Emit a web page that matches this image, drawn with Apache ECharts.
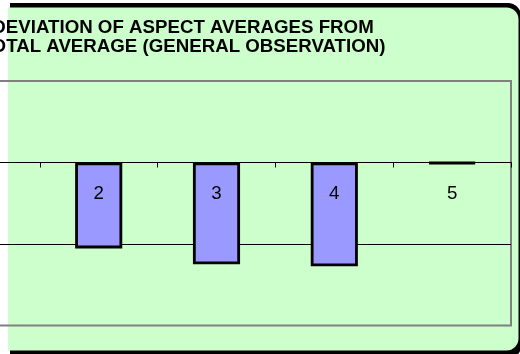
<!DOCTYPE html>
<html>
<head>
<meta charset="utf-8">
<script src="https://cdn.jsdelivr.net/npm/echarts@6/dist/echarts.min.js"></script>
<style>
  html, body { margin: 0; padding: 0; background: #ffffff; }
  #chart { width: 520px; height: 354px; }
</style>
</head>
<body>
<div id="chart"></div>
<script>
// Aspect numbers and their deviation from the overall average
const aspects = ['1', '2', '3', '4', '5'];
const deviations = [null, -0.527, -0.624, -0.637, -0.006];

// Value axis range and gridline step
const valueMin = -1;
const valueMax = 0.5;
const valueStep = 0.5;

const titleLines = [
  'DEVIATION OF ASPECT AVERAGES FROM',
  'TOTAL AVERAGE (GENERAL OBSERVATION)'
];

const FONT = 'Liberation Sans, Arial, sans-serif';
const chart = echarts.init(document.getElementById('chart'), null, { renderer: 'canvas' });

chart.setOption({
  backgroundColor: '#ffffff',
  animation: false,
  graphic: [
    {
      // frame shadow
      type: 'rect',
      z: -10,
      silent: true,
      shape: { x: 10, y: 3, width: 511, height: 356, r: [0, 13, 13, 0] },
      style: { fill: '#000000' }
    },
    {
      // chart area
      type: 'rect',
      z: -9,
      silent: true,
      shape: { x: 8, y: 7.5, width: 510.5, height: 343, r: [0, 12, 12, 0] },
      style: { fill: '#CCFFCC' }
    }
  ],
  title: {
    text: titleLines.join('\n'),
    left: 183,
    top: 18,
    padding: 0,
    textAlign: 'center',
    textStyle: {
      fontFamily: FONT,
      fontSize: 18.7,
      fontWeight: 'bold',
      color: '#000000',
      lineHeight: 19.5
    }
  },
  grid: {
    left: -78,
    right: 9,
    top: 81,
    bottom: 28.5,
    containLabel: false,
    outerBoundsMode: 'none',
    show: true,
    backgroundColor: 'transparent',
    borderColor: '#808080',
    borderWidth: 2
  },
  xAxis: {
    type: 'category',
    data: aspects,
    z: 5,
    axisLine: { show: true, onZero: false, lineStyle: { color: '#000000', width: 1 } },
    axisTick: { show: true, interval: 0, length: 5, lineStyle: { color: '#000000', width: 1 } },
    axisLabel: {
      interval: 0,
      margin: 22,
      color: '#000000',
      fontFamily: FONT,
      fontSize: 18.7
    },
    splitLine: { show: false }
  },
  yAxis: {
    type: 'value',
    min: valueMin,
    max: valueMax,
    interval: valueStep,
    axisLine: { show: false },
    axisTick: { show: false },
    axisLabel: { show: false },
    splitLine: {
      show: true,
      showMinLine: false,
      showMaxLine: false,
      lineStyle: { color: '#000000', width: 1 }
    }
  },
  series: [
    {
      type: 'bar',
      data: deviations,
      barWidth: '40%',
      itemStyle: {
        color: '#9999FF',
        borderColor: '#000000',
        borderWidth: 2.8
      }
    }
  ]
});

// Move the category axis (line, ticks and labels) up to the value-axis zero
const plotBottom = chart.convertToPixel({ yAxisIndex: 0 }, valueMin);
const zeroY = chart.convertToPixel({ yAxisIndex: 0 }, 0);
chart.setOption({ xAxis: { offset: zeroY - plotBottom } });
</script>
</body>
</html>
